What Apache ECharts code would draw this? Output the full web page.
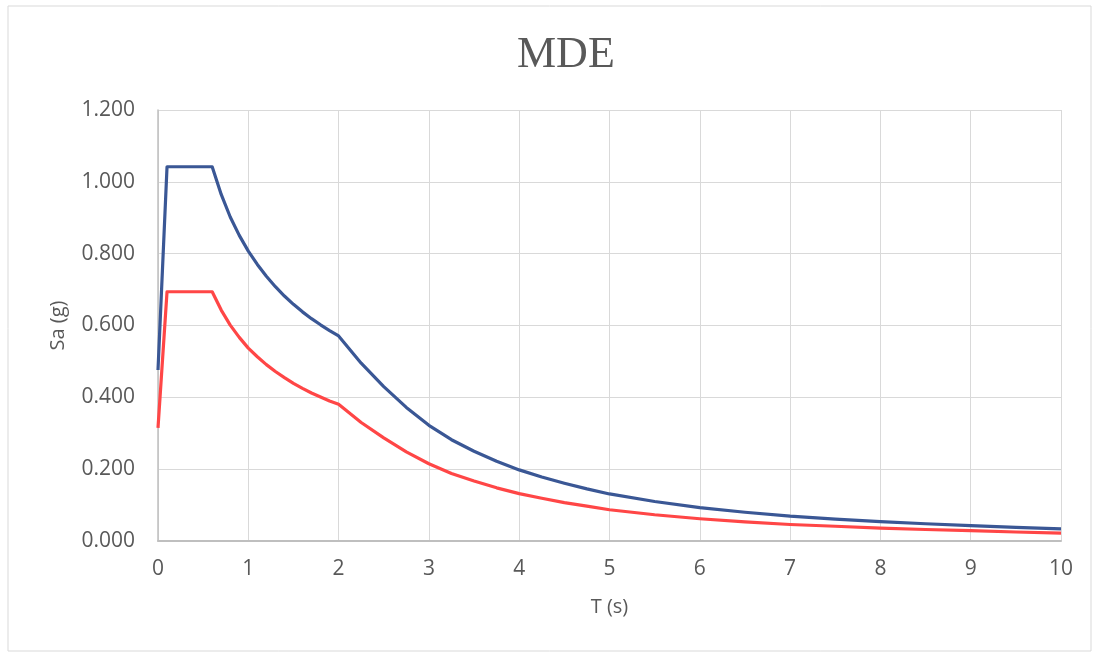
<!DOCTYPE html>
<html>
<head>
<meta charset="utf-8">
<script src="https://cdn.jsdelivr.net/npm/echarts@6/dist/echarts.min.js"></script>
<style>
html,body{margin:0;padding:0;background:#fff;}
#chart{width:1094px;height:653px;}
</style>
</head>
<body>
<div id="chart"></div>
<script>
// Periods T (s)
const periods = [0, 0.1, 0.6, 0.7, 0.8, 0.9, 1.0, 1.1, 1.2, 1.3, 1.4, 1.5, 1.6, 1.7, 1.8, 1.9, 2.0, 2.25, 2.5, 2.75, 3.0, 3.25, 3.5, 3.75, 4.0, 4.25, 4.5, 4.75, 5.0, 5.5, 6.0, 6.5, 7.0, 7.5, 8.0, 8.5, 9.0, 9.5, 10.0];
// Spectral acceleration Sa (g), upper (blue) curve
const saBlue = [0.476, 1.042, 1.042, 0.965, 0.902, 0.851, 0.807, 0.770, 0.737, 0.708, 0.682, 0.659, 0.638, 0.619, 0.602, 0.586, 0.571, 0.495, 0.430, 0.372, 0.322, 0.282, 0.250, 0.222, 0.198, 0.178, 0.161, 0.145, 0.131, 0.110, 0.093, 0.080, 0.069, 0.061, 0.054, 0.048, 0.043, 0.038, 0.034];
// Spectral acceleration Sa (g), lower (red) curve
const saRed = [0.315, 0.694, 0.694, 0.643, 0.601, 0.567, 0.537, 0.513, 0.491, 0.472, 0.455, 0.439, 0.425, 0.412, 0.401, 0.390, 0.381, 0.330, 0.287, 0.248, 0.215, 0.188, 0.167, 0.148, 0.132, 0.119, 0.107, 0.097, 0.087, 0.073, 0.062, 0.053, 0.046, 0.041, 0.036, 0.032, 0.029, 0.025, 0.022];

const titleText = 'MDE';
const xName = 'T (s)';
const yName = 'Sa (g)';

const chart = echarts.init(document.getElementById('chart'), null, {renderer: 'canvas'});
const pair = (xs, ys) => xs.map((x, i) => [x, ys[i]]);
const labelColor = '#595959';
const font = 'Open Sans';

chart.setOption({
  backgroundColor: '#ffffff',
  animation: false,
  graphic: [{
    type: 'rect',
    shape: {x: 8, y: 6, width: 1083, height: 645},
    style: {fill: 'none', stroke: '#d9d9d9', lineWidth: 1},
    silent: true
  }],
  title: {
    text: titleText,
    left: 512,
    top: 28,
    textStyle: {fontFamily: 'Liberation Serif', fontSize: 44, fontWeight: 'normal', color: labelColor}
  },
  grid: {left: 158, right: 33, top: 110, bottom: 112, containLabel: false},
  xAxis: {
    type: 'value',
    min: 0, max: 10, interval: 1,
    name: xName,
    nameLocation: 'middle',
    nameGap: 56,
    nameMoveOverlap: false,
    nameTextStyle: {fontFamily: font, fontSize: 20, color: labelColor},
    axisLine: {show: true, lineStyle: {color: '#bfbfbf', width: 2}},
    axisTick: {show: false},
    axisLabel: {fontFamily: font, fontSize: 21, color: labelColor, margin: 18},
    splitLine: {show: true, lineStyle: {color: '#d9d9d9', width: 1}}
  },
  yAxis: {
    type: 'value',
    min: 0, max: 1.2, interval: 0.2,
    name: yName,
    nameLocation: 'middle',
    nameGap: 90,
    nameMoveOverlap: false,
    nameTextStyle: {fontFamily: font, fontSize: 20, color: labelColor},
    axisLine: {show: true, lineStyle: {color: '#bfbfbf', width: 1.5}},
    axisTick: {show: false},
    axisLabel: {fontFamily: font, fontSize: 21, color: labelColor, margin: 23, formatter: v => v.toFixed(3)},
    splitLine: {show: true, lineStyle: {color: '#d9d9d9', width: 1}}
  },
  series: [
    {
      type: 'line',
      data: pair(periods, saBlue),
      smooth: false,
      showSymbol: false,
      lineStyle: {color: '#3a5795', width: 3.2, join: 'round'},
      itemStyle: {color: '#3a5795'}
    },
    {
      type: 'line',
      data: pair(periods, saRed),
      smooth: false,
      showSymbol: false,
      lineStyle: {color: '#ff4646', width: 3.2, join: 'round'},
      itemStyle: {color: '#ff4646'}
    }
  ]
});
</script>
</body>
</html>
